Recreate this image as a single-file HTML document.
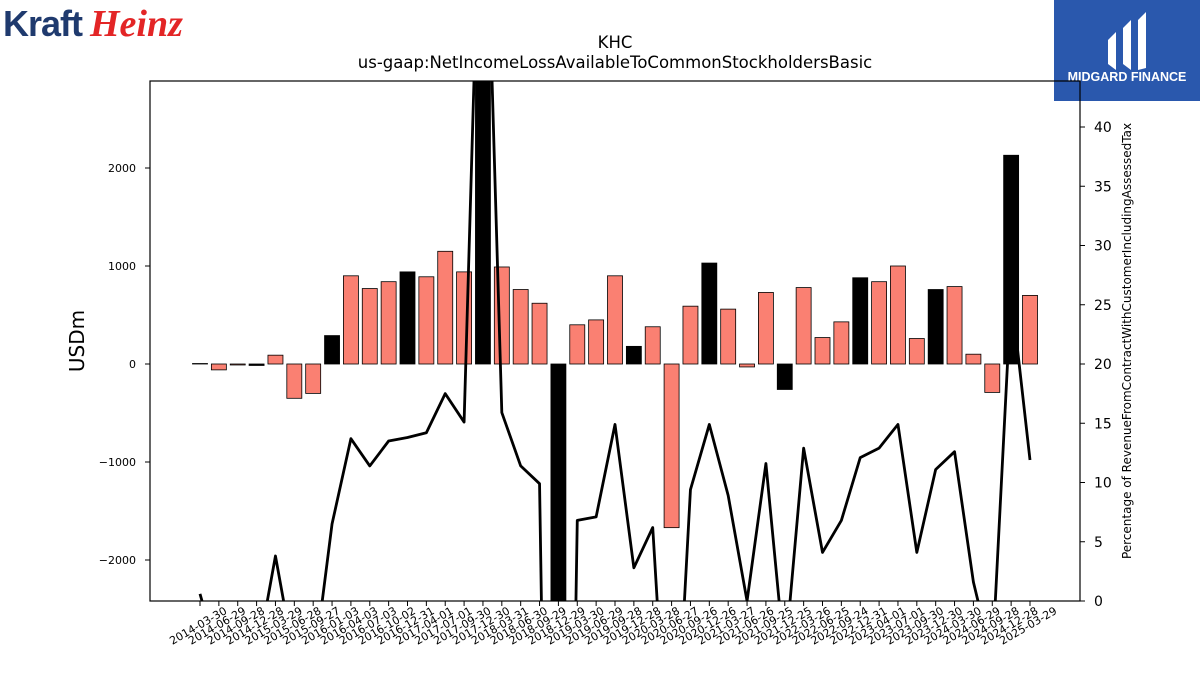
<!DOCTYPE html>
<html><head><meta charset="utf-8"><style>
html,body{margin:0;padding:0}
body{background:#fff;width:1200px;height:675px;overflow:hidden;position:relative;font-family:"DejaVu Sans","Liberation Sans",sans-serif}
svg{position:absolute;left:0;top:0;display:block}
</style></head><body>
<svg id="c" width="1200" height="675">
<defs><clipPath id="pc"><rect x="150" y="81" width="930" height="520"/></clipPath></defs>
<g>
<text x="3" y="36" font-family="Liberation Sans,sans-serif" font-weight="bold" font-size="36" fill="#1f3a6e" letter-spacing="-1">Kraft</text>
<text x="90" y="36" font-family="Liberation Serif,serif" font-style="italic" font-weight="bold" font-size="38" fill="#e32526">Heinz</text>
</g>
<g>
<rect x="1054" y="0" width="146" height="101" fill="#2a58ad"/>
<path d="M1108 40 l8 -8 v38 l-8 -6z M1123 28 l8 -8 v50 l-8 -6z M1138 20 l8 -8 v56 l-8 2z" fill="#fff"/>
<text x="1127" y="81" text-anchor="middle" font-family="Liberation Sans,sans-serif" font-weight="bold" font-size="12.5" fill="#fff">MIDGARD FINANCE</text>
</g>
<text x="615" y="48" text-anchor="middle" font-size="16.5">KHC</text>
<text x="615" y="68" text-anchor="middle" font-size="16.5">us-gaap:NetIncomeLossAvailableToCommonStockholdersBasic</text>
<text transform="translate(84,341) rotate(-90)" text-anchor="middle" font-size="20">USDm</text>
<text transform="translate(1131,341) rotate(-90)" text-anchor="middle" font-size="12">Percentage of RevenueFromContractWithCustomerIncludingAssessedTax</text>
<g id="bars" clip-path="url(#pc)"></g>
<g id="line" clip-path="url(#pc)"></g>
<g id="axes"></g>
<rect x="150" y="81" width="930" height="520" fill="none" stroke="#000" stroke-width="1.2"/>
</svg>
<script>
const dates=["2014-03-30","2014-06-29","2014-09-28","2014-12-28","2015-03-29","2015-06-28","2015-09-27","2016-01-03","2016-04-03","2016-07-03","2016-10-02","2016-12-31","2017-04-01","2017-07-01","2017-09-30","2017-12-30","2018-03-31","2018-06-30","2018-09-29","2018-12-29","2019-03-30","2019-06-29","2019-09-28","2019-12-28","2020-03-28","2020-06-27","2020-09-26","2020-12-26","2021-03-27","2021-06-26","2021-09-25","2021-12-25","2022-03-26","2022-06-25","2022-09-24","2022-12-31","2023-04-01","2023-07-01","2023-09-30","2023-12-30","2024-03-30","2024-06-29","2024-09-28","2024-12-28","2025-03-29"];
const netIncome=[5,-60,-10,-15,90,-350,-300,290,900,770,840,940,890,1150,940,8000,990,760,620,-12600,400,450,900,180,380,-1670,590,1030,560,-30,730,-260,780,270,430,880,840,1000,260,760,790,100,-290,2130,700];
const isAnnual=[1,0,0,1,0,0,0,1,0,0,0,1,0,0,0,1,0,0,0,1,0,0,0,1,0,0,0,1,0,0,0,1,0,0,0,1,0,0,0,1,0,0,0,1,0];
const pctRevenue=[0.6,-5,-5,-5,3.8,-5,-6,6.5,13.7,11.4,13.5,13.8,14.2,17.5,15.1,70,15.9,11.4,9.9,-90,6.8,7.1,14.9,2.8,6.2,-20,9.4,14.9,8.9,0,11.6,-5,12.9,4.1,6.8,12.1,12.9,14.9,4.1,11.1,12.6,1.6,-5,26,11.9];
const leftTicks=[-2000,-1000,0,1000,2000];
const rightTicks=[0,5,10,15,20,25,30,35,40];
const NS="http://www.w3.org/2000/svg";
const x=i=>200+i*(830/44);
const y=v=>364-v*0.098;
const y2=v=>601-v*11.85;
function mk(t,a,p){const e=document.createElementNS(NS,t);for(const k in a)e.setAttribute(k,a[k]);p.appendChild(e);return e;}
const B=document.getElementById('bars'),L=document.getElementById('line'),A=document.getElementById('axes');
netIncome.forEach((v,i)=>{const r=mk('rect',{x:x(i)-7.5,y:Math.min(y(v),y(0)),width:15,height:Math.abs(y(v)-y(0)),fill:isAnnual[i]?'#000':'#fa8072',stroke:'#000','stroke-width':0.8},B);

});
const pl=mk('polyline',{points:pctRevenue.map((v,i)=>x(i)+','+y2(v)).join(' '),fill:'none',stroke:'#000','stroke-width':2.8,'stroke-linejoin':'round'},L);


leftTicks.forEach(t=>{mk('line',{x1:145,x2:150,y1:y(t),y2:y(t),stroke:'#000'},A);
const tx=mk('text',{x:136,y:y(t)+4,'text-anchor':'end','font-size':11},A);tx.textContent=String(t).replace('-','\u2212');

});
rightTicks.forEach(t=>{mk('line',{x1:1080,x2:1085,y1:y2(t),y2:y2(t),stroke:'#000'},A);
const tx=mk('text',{x:1094,y:y2(t)+5,'font-size':14},A);tx.textContent=t;

});
dates.forEach((d,i)=>{mk('line',{x1:x(i),x2:x(i),y1:601,y2:606,stroke:'#000'},A);
const tx=mk('text',{transform:`translate(${x(i)},${629}) rotate(-30)`,'text-anchor':'middle','font-size':11},A);tx.textContent=d;

});
</script>
</body></html>
